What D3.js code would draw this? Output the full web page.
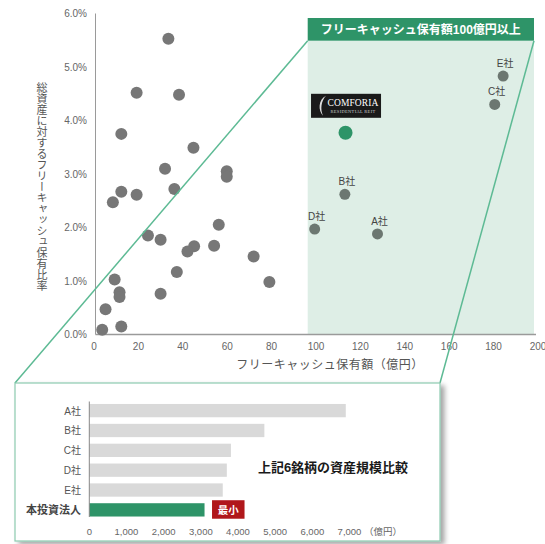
<!DOCTYPE html>
<html>
<head>
<meta charset="utf-8">
<script src="https://cdn.jsdelivr.net/npm/d3@7"></script>
<style>
  html, body { margin: 0; padding: 0; background: #fff; }
  svg { display: block; font-family: "Liberation Sans", Arial, "Noto Sans CJK JP", sans-serif; }
</style>
</head>
<body>
<svg id="chart" width="545" height="544"></svg>
<script>
// Other J-REITs: free cash (億円) vs. free cash ratio to total assets (%)
const otherCash  = [33.5, 19.2, 38.3, 12.3, 44.8, 32.0, 59.8, 59.8, 12.3, 19.2, 36.2, 8.5, 24.3, 30.0, 56.2, 45.1, 42.1, 54.1, 71.9, 37.3, 9.3, 79.0, 11.5, 11.5, 30.0, 5.2, 3.7, 12.3];
const otherRatio = [5.53, 4.52, 4.48, 3.75, 3.49, 3.10, 3.05, 2.95, 2.67, 2.61, 2.72, 2.47, 1.85, 1.77, 2.05, 1.65, 1.55, 1.66, 1.46, 1.17, 1.03, 0.98, 0.79, 0.70, 0.76, 0.47, 0.09, 0.15];

// Peers with free cash of 100億円 or more
const peerNames = ["A社", "B社", "C社", "D社", "E社"];
const peerCash  = [127.7, 113.0, 180.5, 99.4, 184.3];
const peerRatio = [1.88, 2.62, 4.30, 1.97, 4.83];

// Comforia Residential REIT
const ownCash = 113.3;
const ownRatio = 3.77;

// Asset size comparison (億円)
const barCats   = ["A社", "B社", "C社", "D社", "E社", "本投資法人"];
const barValues = [6900, 4710, 3810, 3700, 3590, 3100];

const xTicks = [0, 20, 40, 60, 80, 100, 120, 140, 160, 180, 200];
const yTicks = [0, 1, 2, 3, 4, 5, 6];
const barTicks = [0, 1000, 2000, 3000, 4000, 5000, 6000, 7000];

const GREEN = "#2e9468";
const LINE_GREEN = "#5dba94";

const svg = d3.select("#chart");

// ---------- scatter ----------
const x = d3.scaleLinear().domain([0, 200]).range([94, 538]);
const y = d3.scaleLinear().domain([0, 6]).range([334.5, 13.5]);

// highlight zone (>= 100億円)
const zoneL = 307.7, zoneR = 534, zoneT = 40.7, headT = 18;
svg.append("rect")
  .attr("x", zoneL).attr("y", zoneT)
  .attr("width", zoneR - zoneL).attr("height", y(0) - zoneT)
  .attr("fill", "#deeee6");
svg.append("rect")
  .attr("x", zoneL).attr("y", headT)
  .attr("width", zoneR - zoneL).attr("height", zoneT - headT)
  .attr("fill", GREEN);
svg.append("text")
  .attr("x", (zoneL + zoneR) / 2).attr("y", 34)
  .attr("text-anchor", "middle")
  .attr("fill", "#fff").attr("font-weight", "bold").attr("font-size", 12)
  .text("フリーキャッシュ保有額100億円以上");

// axes
svg.append("line").attr("x1", 95.5).attr("x2", 95.5).attr("y1", y(6)).attr("y2", y(0))
  .attr("stroke", "#9a9a9a").attr("stroke-width", 1);
svg.append("line").attr("x1", 95.5).attr("x2", 536).attr("y1", y(0)).attr("y2", y(0))
  .attr("stroke", "#9a9a9a").attr("stroke-width", 1.5);

svg.append("g").selectAll("text").data(yTicks).join("text")
  .attr("x", 87).attr("y", d => y(d) + 3.5)
  .attr("text-anchor", "end").attr("font-size", 10).attr("fill", "#666")
  .text(d => d3.format(".1f")(d) + "%");

svg.append("g").selectAll("text").data(xTicks).join("text")
  .attr("x", d => x(d)).attr("y", 350)
  .attr("text-anchor", "middle").attr("font-size", 10).attr("fill", "#666")
  .text(d => d);

svg.append("text")
  .attr("x", 330).attr("y", 369)
  .attr("text-anchor", "middle").attr("font-size", 12).attr("fill", "#555")
  .attr("letter-spacing", 0.5)
  .text("フリーキャッシュ保有額（億円）");

// vertical y-axis title
svg.append("text")
  .attr("x", 42).attr("y", 187)
  .attr("text-anchor", "middle").attr("font-size", 11).attr("fill", "#555")
  .attr("font-family", "'Noto Sans CJK JP', sans-serif")
  .style("writing-mode", "vertical-rl")
  .text("総資産に対するフリーキャッシュ保有比率");

// other points
svg.append("g").selectAll("circle").data(otherCash).join("circle")
  .attr("cx", d => x(d)).attr("cy", (d, i) => y(otherRatio[i]))
  .attr("r", 6).attr("fill", "#777");

// peers
const peers = svg.append("g");
peers.selectAll("circle").data(peerNames).join("circle")
  .attr("cx", (d, i) => x(peerCash[i])).attr("cy", (d, i) => y(peerRatio[i]))
  .attr("r", 5.5).attr("fill", "#6c7771");
peers.selectAll("text").data(peerNames).join("text")
  .attr("x", (d, i) => x(peerCash[i]) + 2).attr("y", (d, i) => y(peerRatio[i]) - 9)
  .attr("text-anchor", "middle").attr("font-size", 10).attr("fill", "#444")
  .text(d => d);

// own REIT
svg.append("circle")
  .attr("cx", x(ownCash)).attr("cy", y(ownRatio))
  .attr("r", 7).attr("fill", GREEN);

// logo plate
const lx = x(ownCash) - 34.5, ly = y(ownRatio) - 39;
const logo = svg.append("g").attr("transform", `translate(${lx},${ly})`);
logo.append("rect").attr("width", 70).attr("height", 24).attr("fill", "#1a1a1a");
logo.append("path")
  .attr("d", "M15,2 C7,6 7,17 12,22 C9,16 10,7 15,2 Z")
  .attr("fill", "#ddd");
logo.append("text")
  .attr("x", 42).attr("y", 12.5)
  .attr("text-anchor", "middle").attr("fill", "#fff")
  .attr("font-family", "'Liberation Serif', 'DejaVu Serif', serif")
  .attr("font-size", 9.5).attr("letter-spacing", 0.1)
  .text("COMFORIA");
logo.append("text")
  .attr("x", 42).attr("y", 19.5)
  .attr("text-anchor", "middle").attr("fill", "#ccc")
  .attr("font-family", "'Liberation Serif', 'DejaVu Serif', serif")
  .attr("font-size", 4.5).attr("letter-spacing", 0.3)
  .text("RESIDENTIAL REIT");

// ---------- asset size box ----------
const box = { l: 15, r: 440, t: 383, b: 541 };

const defs = svg.append("defs");
const f = defs.append("filter").attr("id", "shadow")
  .attr("x", "-5%").attr("y", "-5%").attr("width", "115%").attr("height", "115%");
f.append("feDropShadow").attr("dx", 4).attr("dy", 3).attr("stdDeviation", 2.5)
  .attr("flood-color", "#000").attr("flood-opacity", 0.35);

// connector lines from highlight zone down to the box
svg.append("line").attr("x1", zoneL).attr("y1", zoneT).attr("x2", box.l).attr("y2", box.t)
  .attr("stroke", LINE_GREEN).attr("stroke-width", 1.5);
svg.append("line").attr("x1", zoneR).attr("y1", zoneT).attr("x2", box.r).attr("y2", box.t)
  .attr("stroke", LINE_GREEN).attr("stroke-width", 1.5);

svg.append("rect")
  .attr("x", box.l).attr("y", box.t)
  .attr("width", box.r - box.l).attr("height", box.b - box.t)
  .attr("fill", "#fff").attr("stroke", "#8ccab0").attr("stroke-width", 1.2)
  .attr("filter", "url(#shadow)");

const bx = d3.scaleLinear().domain([0, 7000]).range([89.3, 349.5]);
const by = d3.scaleBand().domain(barCats).range([401, 519.5]).paddingInner(0.33).paddingOuter(0.15);

svg.append("g").selectAll("rect").data(barCats).join("rect")
  .attr("x", bx(0)).attr("y", d => by(d))
  .attr("width", (d, i) => bx(barValues[i]) - bx(0))
  .attr("height", by.bandwidth())
  .attr("fill", (d, i) => i === barCats.length - 1 ? GREEN : "#d9d9d9");

svg.append("line").attr("x1", 89.3).attr("x2", 89.3).attr("y1", 401.5).attr("y2", 517)
  .attr("stroke", "#888").attr("stroke-width", 1);

svg.append("g").selectAll("text").data(barCats).join("text")
  .attr("x", 81).attr("y", d => by(d) + by.bandwidth() / 2 + 4)
  .attr("text-anchor", "end")
  .attr("font-size", (d, i) => i === barCats.length - 1 ? 11 : 10)
  .attr("font-weight", (d, i) => i === barCats.length - 1 ? "bold" : "normal")
  .attr("fill", (d, i) => i === barCats.length - 1 ? "#444" : "#555")
  .text(d => d);

svg.append("g").selectAll("text").data(barTicks).join("text")
  .attr("x", d => bx(d)).attr("y", 535)
  .attr("text-anchor", "middle").attr("font-size", 9.5).attr("fill", "#666")
  .text(d => d3.format(",")(d));
svg.append("text").attr("x", 383).attr("y", 535)
  .attr("text-anchor", "middle").attr("font-size", 9.5).attr("fill", "#666")
  .text("（億円）");

// "smallest" tag next to own bar
const ownBand = by(barCats[barCats.length - 1]);
const tagX = bx(barValues[barValues.length - 1]) + 7.5;
svg.append("rect")
  .attr("x", tagX).attr("y", ownBand - 3)
  .attr("width", 32.5).attr("height", 18.5)
  .attr("fill", "#b0171b");
svg.append("text")
  .attr("x", tagX + 16.25).attr("y", ownBand + 10.5)
  .attr("text-anchor", "middle").attr("fill", "#fff")
  .attr("font-size", 10.5).attr("font-weight", "bold")
  .text("最小");

svg.append("text")
  .attr("x", 333).attr("y", 472)
  .attr("text-anchor", "middle").attr("font-size", 13).attr("font-weight", "bold")
  .attr("fill", "#1a1a1a")
  .text("上記6銘柄の資産規模比較");
</script>
</body>
</html>
